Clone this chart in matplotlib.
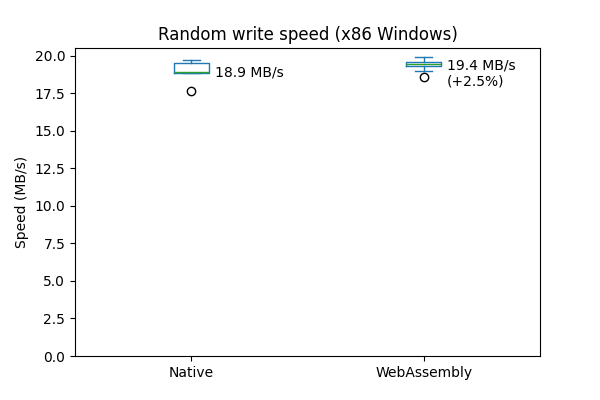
import matplotlib
matplotlib.use('Agg')
import matplotlib.pyplot as plt

# 数据（从图中读取的箱线图统计量）
labels = ['Native', 'WebAssembly']
medians = [18.92, 19.45]
q1 = [18.85, 19.30]
q3 = [19.51, 19.59]
whislo = [18.85, 18.96]
whishi = [19.72, 19.93]
fliers = [[17.62], [18.55]]
annot = ['18.9 MB/s', '19.4 MB/s\n(+2.5%)']
annot_y = [18.86, 18.78]

stats = []
for i, lab in enumerate(labels):
    stats.append({
        'label': lab, 'med': medians[i], 'q1': q1[i], 'q3': q3[i],
        'whislo': whislo[i], 'whishi': whishi[i], 'fliers': fliers[i],
    })

fig, ax = plt.subplots(figsize=(6, 4), dpi=100)
ax.bxp(stats, positions=[1, 2], widths=0.15,
       boxprops=dict(color='C0'), whiskerprops=dict(color='C0'),
       capprops=dict(color='C0'), medianprops=dict(color='C2'),
       flierprops=dict(marker='o', markeredgecolor='black'))

for i, txt in enumerate(annot):
    ax.text(i + 1 + 0.1, annot_y[i], txt, va='center', ha='left')

ax.set_xlim(0.5, 2.5)
ax.set_ylim(0, 20.5)
ax.set_ylabel('Speed (MB/s)')
ax.set_title('Random write speed (x86 Windows)')

plt.savefig('out.png', dpi=100)
plt.close()
